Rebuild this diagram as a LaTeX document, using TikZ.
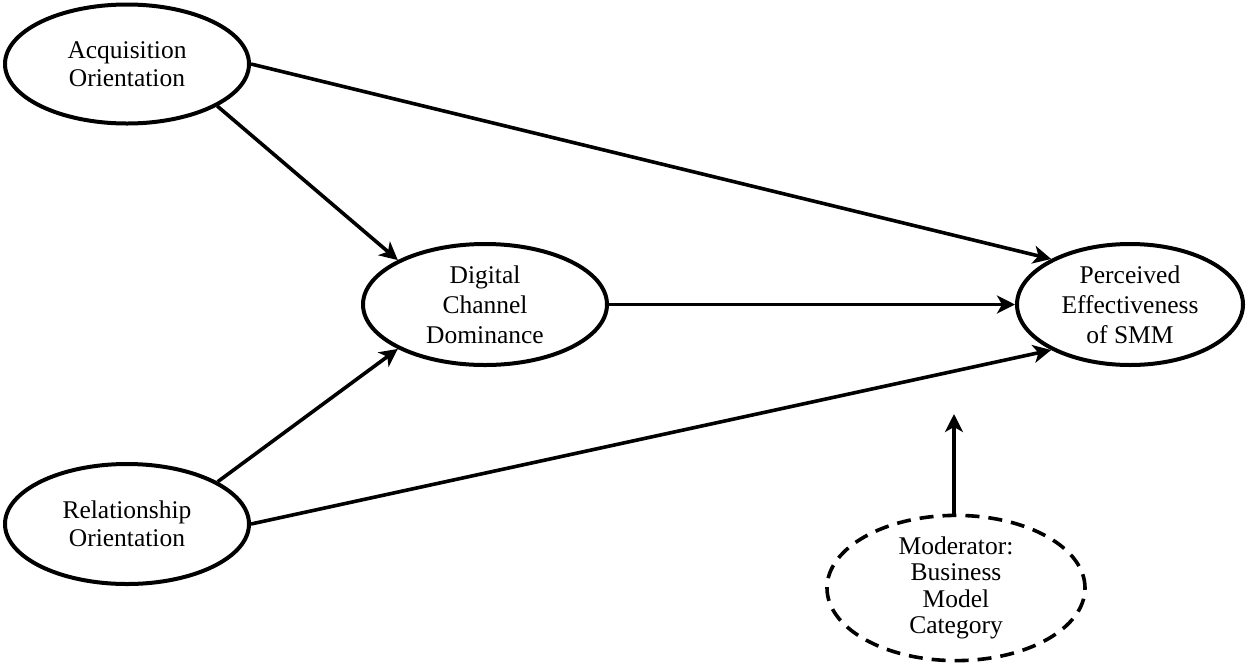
\documentclass[tikz,border=0pt]{standalone}
\usepackage{fontspec}
\setmainfont{Liberation Serif}
\usetikzlibrary{shapes.geometric,arrows.meta}
\begin{document}
\begin{tikzpicture}[x=1pt,y=-1pt,
  construct/.style={ellipse, draw, line width=4pt, inner sep=0pt, align=center},
  twoline/.style={font=\fontsize{25.5}{28}\selectfont},
  threeline/.style={font=\fontsize{25.5}{30}\selectfont},
  fourline/.style={font=\fontsize{25.5}{26.5}\selectfont},
  link/.style={line width=3.6pt, -{Stealth[length=18pt,width=18pt,inset=5pt]}}]
\useasboundingbox (0,0) rectangle (1248,665);
\node[construct, twoline, minimum width=244pt, minimum height=119pt] (acq) at (127,64) {Acquisition\\Orientation};
\node[construct, twoline, minimum width=244pt, minimum height=120pt] (rel) at (127,524) {Relationship\\Orientation};
\node[construct, threeline, minimum width=244pt, minimum height=121pt] (dig) at (485,304.5) {Digital\\Channel\\Dominance};
\node[construct, threeline, minimum width=226pt, minimum height=121pt] (perc) at (1130,304.5) {Perceived\\Effectiveness\\of SMM};
\node[construct, fourline, dash pattern=on 14pt off 9pt, line width=3.6pt, minimum width=258pt, minimum height=140pt] (mod) at (956,588) {Moderator:\\Business\\Model\\Category};
\coordinate (modtip) at (954,414);
\draw[link] (acq.-25) -- (dig.153);
\draw[link] (rel.25) -- (dig.207);
\draw[link] (acq.east) -- (perc.150);
\draw[link] (rel.east) -- (perc.210);
\draw[link] (dig.east) -- (perc.west);
\draw[link] (mod.north -| modtip) -- (modtip);
\end{tikzpicture}
\end{document}
